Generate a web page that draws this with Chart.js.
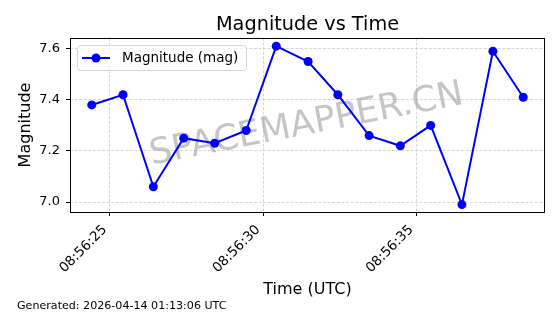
<!DOCTYPE html>
<html>
<head>
<meta charset="utf-8">
<script src="https://cdn.jsdelivr.net/npm/chart.js@4.4.1/dist/chart.umd.min.js"></script>
<style>
  html, body { margin: 0; padding: 0; background: #fff; }
  #plot { display: block; }
</style>
</head>
<body>
<canvas id="plot" width="560" height="314"></canvas>
<script>
const obsTimes = ['08:56:24.41', '08:56:25.43', '08:56:26.42', '08:56:27.41', '08:56:28.42',
                  '08:56:29.45', '08:56:30.43', '08:56:31.47', '08:56:32.44', '08:56:33.46',
                  '08:56:34.48', '08:56:35.47', '08:56:36.49', '08:56:37.50', '08:56:38.49'];
const magnitudes = [7.38, 7.42, 7.06, 7.25, 7.23, 7.28, 7.61, 7.55, 7.42, 7.26, 7.22, 7.30, 6.99, 7.59, 7.41];

const xTickLabels = ['08:56:25', '08:56:30', '08:56:35'];
const yTickValues = [7.0, 7.2, 7.4, 7.6];

const seriesLabel = 'Magnitude (mag)';
const titleText = 'Magnitude vs Time';
const footerText = 'Generated: 2026-04-14 01:13:06 UTC';
const watermarkText = 'SPACEMAPPER.CN';

const FONT = '"DejaVu Sans", Verdana, sans-serif';
const BLUE = '#0000ff';

// seconds past 08:56:00
function toSec(t) {
  const p = t.split(':').map(Number);
  return (p[0] - 8) * 3600 + (p[1] - 56) * 60 + p[2];
}
function fmtSec(s) {
  return '08:56:' + String(Math.round(s)).padStart(2, '0');
}

const points = obsTimes.map((t, i) => ({ x: toSec(t), y: magnitudes[i] }));

// title, watermark, frame, legend and footer in matplotlib style
const decor = {
  id: 'decor',
  beforeDatasetsDraw(chart) {
    const { ctx, chartArea: a } = chart;
    ctx.save();
    ctx.translate((a.left + a.right) / 2 - 1, (a.top + a.bottom) / 2);
    ctx.rotate(-11 * Math.PI / 180);
    ctx.font = '35.5px ' + FONT;
    ctx.fillStyle = 'rgba(150,150,150,0.55)';
    ctx.textAlign = 'center';
    ctx.textBaseline = 'middle';
    ctx.fillText(watermarkText, 0, 0);
    ctx.restore();
  },
  afterDatasetsDraw(chart) {
    const { ctx, chartArea: a } = chart;
    ctx.save();
    ctx.strokeStyle = '#000';
    ctx.lineWidth = 1;
    ctx.strokeRect(Math.round(a.left) + 0.5, Math.round(a.top) + 0.5,
                   Math.round(a.right - a.left) - 1, Math.round(a.bottom - a.top));
    ctx.restore();
  },
  afterDraw(chart) {
    const { ctx, chartArea: a } = chart;
    ctx.save();
    // title
    ctx.fillStyle = '#000';
    ctx.font = '19.3px ' + FONT;
    ctx.textAlign = 'center';
    ctx.textBaseline = 'alphabetic';
    ctx.fillText(titleText, (a.left + a.right) / 2, 30);

    // legend
    const lx = a.left + 7.5, ly = a.top + 7.5, lw = 169, lh = 25;
    ctx.beginPath();
    ctx.roundRect(lx, ly, lw, lh, 3);
    ctx.fillStyle = 'rgba(255,255,255,0.8)';
    ctx.fill();
    ctx.strokeStyle = '#d5d5d5';
    ctx.lineWidth = 1;
    ctx.stroke();
    const my = ly + lh / 2;
    ctx.beginPath();
    ctx.moveTo(lx + 4.5, my);
    ctx.lineTo(lx + 32.5, my);
    ctx.strokeStyle = BLUE;
    ctx.lineWidth = 2;
    ctx.stroke();
    ctx.beginPath();
    ctx.arc(lx + 18.5, my, 4.5, 0, Math.PI * 2);
    ctx.fillStyle = BLUE;
    ctx.fill();
    ctx.fillStyle = '#000';
    ctx.font = '13.5px ' + FONT;
    ctx.textAlign = 'left';
    ctx.textBaseline = 'middle';
    ctx.fillText(chart.data.datasets[0].label, lx + 44.5, my + 0.5);

    // footer
    ctx.font = '11.1px ' + FONT;
    ctx.textBaseline = 'alphabetic';
    ctx.fillText(footerText, 17, 308.5);
    ctx.restore();
  }
};

new Chart(document.getElementById('plot'), {
  type: 'line',
  data: {
    datasets: [{
      label: seriesLabel,
      data: points,
      borderColor: BLUE,
      backgroundColor: BLUE,
      borderWidth: 2,
      tension: 0,
      pointRadius: 4.5,
      pointHoverRadius: 4.5,
      pointBorderWidth: 0,
      pointBackgroundColor: BLUE,
      fill: false,
      clip: false
    }]
  },
  options: {
    responsive: false,
    animation: false,
    events: [],
    layout: { padding: { left: 0, right: 15, top: 38, bottom: 0 } },
    plugins: {
      legend: { display: false },
      title: { display: false },
      tooltip: { enabled: false }
    },
    scales: {
      x: {
        type: 'linear',
        min: 23.7,
        max: 39.2,
        afterBuildTicks: s => { s.ticks = xTickLabels.map(l => ({ value: toSec(l) })); },
        afterFit: s => { s.height = 102; },
        ticks: {
          autoSkip: false,
          minRotation: 45,
          maxRotation: 45,
          padding: 6,
          labelOffset: -5,
          color: '#000',
          font: { family: FONT, size: 13.5 },
          callback: v => fmtSec(v)
        },
        grid: {
          color: '#cccccc',
          lineWidth: 0.8,
          tickColor: '#000',
          tickLength: 4,
          tickWidth: 1,
          tickBorderDash: []
        },
        border: { display: false, dash: [3, 1.6] },
        title: {
          display: true,
          text: 'Time (UTC)',
          color: '#000',
          font: { family: FONT, size: 16 },
          padding: { top: 0, bottom: 14.5 }
        }
      },
      y: {
        type: 'linear',
        min: 6.961,
        max: 7.642,
        afterBuildTicks: s => { s.ticks = yTickValues.map(v => ({ value: v })); },
        afterFit: s => { s.width = 70; },
        ticks: {
          padding: 6,
          color: '#000',
          font: { family: FONT, size: 13 },
          callback: v => v.toFixed(1)
        },
        grid: {
          color: '#cccccc',
          lineWidth: 0.8,
          tickColor: '#000',
          tickLength: 4,
          tickWidth: 1,
          tickBorderDash: []
        },
        border: { display: false, dash: [3, 1.6] },
        title: {
          display: true,
          text: 'Magnitude',
          color: '#000',
          font: { family: FONT, size: 16 },
          padding: { top: 16, bottom: 0 }
        }
      }
    }
  },
  plugins: [decor]
});
</script>
</body>
</html>
